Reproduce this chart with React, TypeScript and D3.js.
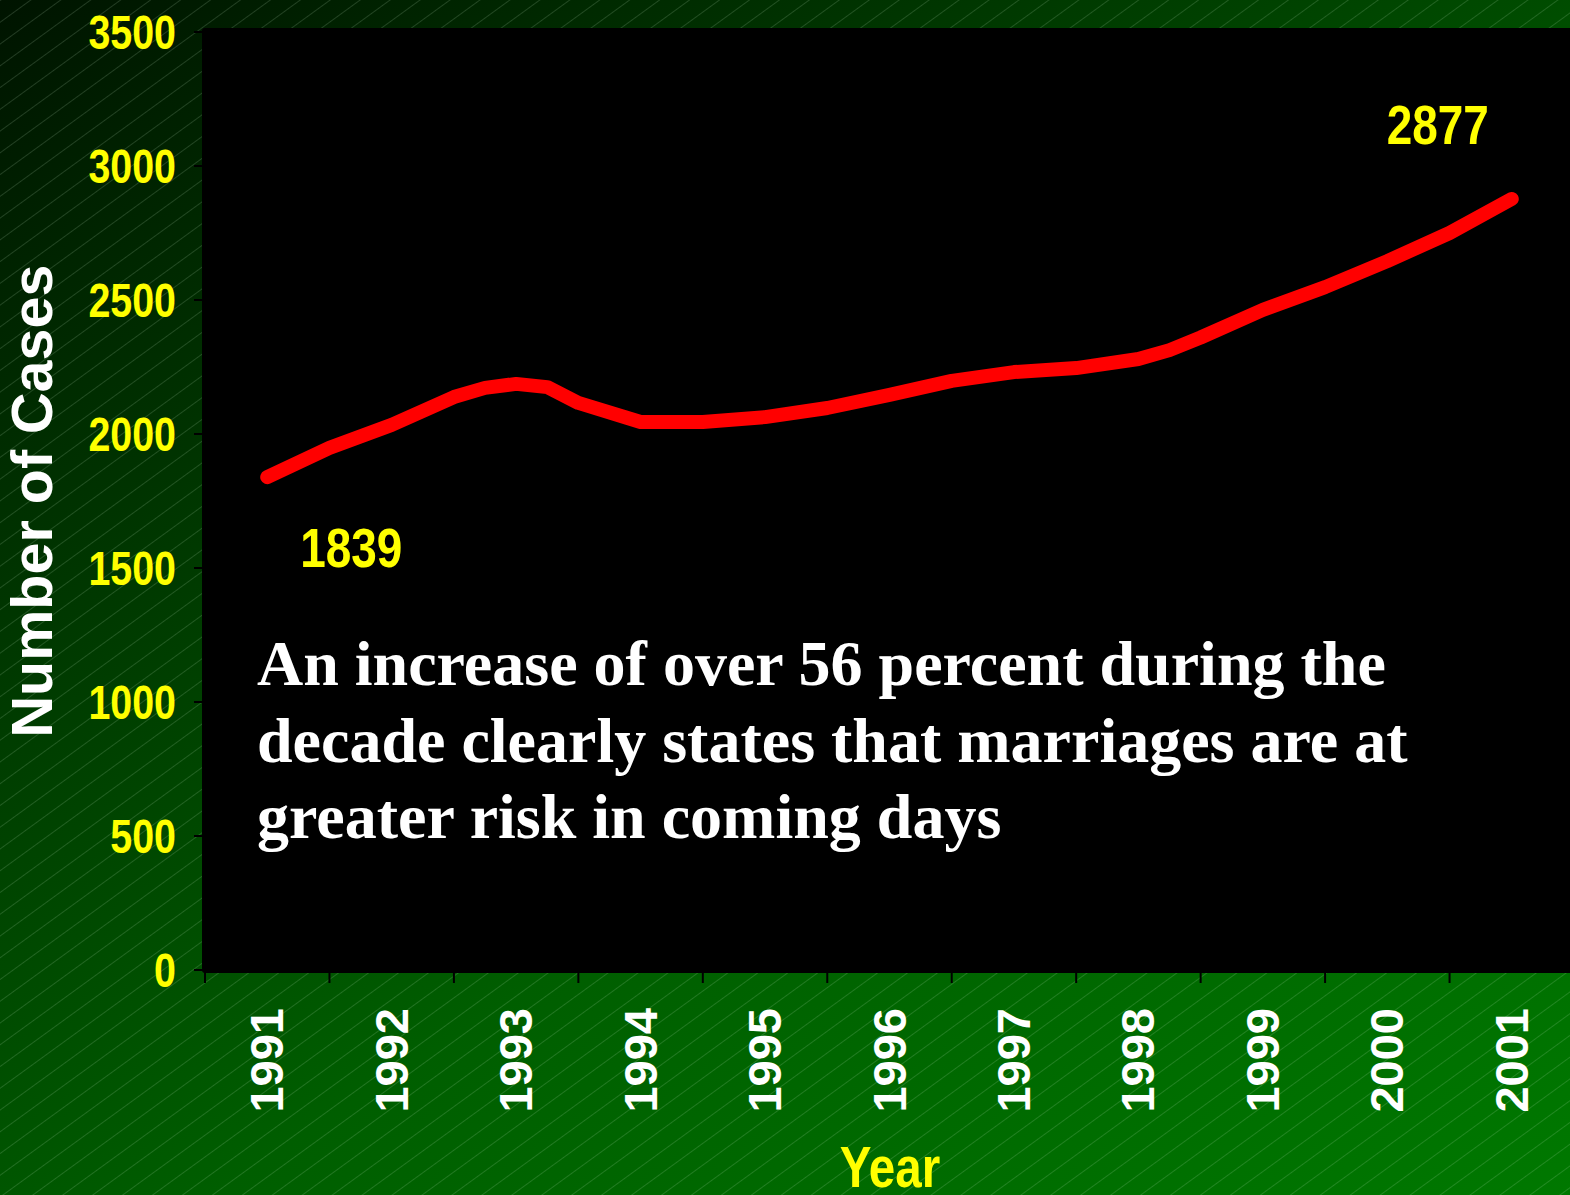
import React from 'react';
import * as d3 from 'd3';

const CATEGORIES = ['1991', '1992', '1993', '1994', '1995', '1996', '1997', '1998', '1999', '2000', '2001'];
const Y_TICKS = [0, 500, 1000, 1500, 2000, 2500, 3000, 3500];
// line sampled at fractional years (data units)
const LINE_YEARS = [1991, 1991.5, 1992, 1992.5, 1992.75, 1993, 1993.25, 1993.5, 1994, 1994.5, 1995, 1995.5, 1996, 1996.5, 1997, 1997.5, 1998, 1998.25, 1998.5, 1999, 1999.5, 2000, 2000.5, 2001];
const LINE_VALUES = [1839, 1948, 2034, 2138, 2172, 2187, 2175, 2116, 2045, 2045, 2063, 2097, 2146, 2198, 2231, 2246, 2280, 2313, 2360, 2463, 2548, 2645, 2750, 2877];
const NOTE_LINES = [
  'An increase of over 56 percent during the',
  'decade clearly states that marriages are at',
  'greater risk in coming days',
];
const Y_TITLE = 'Number of Cases';
const X_TITLE = 'Year';

const W = 1570;
const H = 1195;
const SANS = "'Liberation Sans', Arial, sans-serif";
const SERIF = "'Liberation Serif', 'Times New Roman', serif";
const NARROW_SCALE = 0.82;

function Narrow(props: { x: number; y: number; size: number; anchor?: string; fill: string; children: any }) {
  return (
    <text
      transform={`translate(${props.x},${props.y}) scale(${NARROW_SCALE},1)`}
      textAnchor={props.anchor || 'start'}
      fill={props.fill}
      fontFamily={SANS}
      fontWeight="bold"
      fontSize={props.size}
    >
      {props.children}
    </text>
  );
}

export default function App() {
  const xBand = d3.scaleBand<string>().domain(CATEGORIES).range([205, 1574]).padding(0);
  const bw = xBand.bandwidth();
  const xYear = d3
    .scaleLinear()
    .domain([+CATEGORIES[0], +CATEGORIES[CATEGORIES.length - 1]])
    .range([(xBand(CATEGORIES[0]) as number) + bw / 2, (xBand(CATEGORIES[CATEGORIES.length - 1]) as number) + bw / 2]);
  const y = d3.scaleLinear().domain([0, 3500]).range([970, 32]);

  const pts = LINE_YEARS.map((yr, i) => [yr, LINE_VALUES[i]] as [number, number]);
  const lineGen = d3
    .line<[number, number]>()
    .x((d) => xYear(d[0]))
    .y((d) => y(d[1]))
    .curve(d3.curveLinear);

  const first = pts[0];
  const last = pts[pts.length - 1];
  const boundaries = CATEGORIES.map((c) => xBand(c) as number).concat([(xBand(CATEGORIES[CATEGORIES.length - 1]) as number) + bw]);

  return (
    <svg width={W} height={H} style={{ position: 'absolute', left: 0, top: 0, display: 'block' }}>
      <defs>
        <linearGradient id="bg" gradientUnits="userSpaceOnUse" x1={0} y1={0} x2={1019} y2={1554}>
          <stop offset="0" stopColor="#001400" />
          <stop offset="0.46" stopColor="#004c00" />
          <stop offset="0.6" stopColor="#005e00" />
          <stop offset="1" stopColor="#007800" />
        </linearGradient>
        <pattern id="hatch" patternUnits="userSpaceOnUse" width={20} height={17.6} patternTransform="rotate(-36)">
          <line x1={0} y1={0.5} x2={20} y2={0.5} stroke="rgba(200,230,200,0.22)" strokeWidth={0.8} />
        </pattern>
      </defs>
      <rect x={0} y={0} width={W} height={H} fill="url(#bg)" />
      <rect x={0} y={0} width={W} height={H} fill="url(#hatch)" />

      {/* plot area */}
      <rect x={202} y={28} width={W - 202 + 10} height={945} fill="#000" rx={3} />

      {/* y ticks */}
      {Y_TICKS.map((t) => (
        <g key={t}>
          <line x1={194} x2={203} y1={y(t)} y2={y(t)} stroke="#000" strokeWidth={2} />
          <Narrow x={176} y={y(t) + 17} size={48} anchor="end" fill="#ffff00">
            {t}
          </Narrow>
        </g>
      ))}

      {/* x ticks */}
      {boundaries.map((bx, i) => (
        <line key={i} x1={bx} x2={bx} y1={972} y2={983} stroke="#000" strokeWidth={2} />
      ))}
      {CATEGORIES.map((c) => {
        const cx = (xBand(c) as number) + bw / 2;
        return (
          <text
            key={c}
            transform={`translate(${cx + 16},1008) rotate(-90)`}
            textAnchor="end"
            fill="#fff"
            fontFamily={SANS}
            fontWeight="bold"
            fontSize={47}
          >
            {c}
          </text>
        );
      })}

      {/* axis titles */}
      <text transform="translate(52,501) rotate(-90)" textAnchor="middle" fill="#fff" fontFamily={SANS} fontWeight="bold" fontSize={57.5}>
        {Y_TITLE}
      </text>
      <Narrow x={890} y={1187} size={58} anchor="middle" fill="#ffff00">
        {X_TITLE}
      </Narrow>

      {/* data line */}
      <path d={lineGen(pts) || ''} fill="none" stroke="#ff0000" strokeWidth={14} strokeLinecap="round" strokeLinejoin="round" />

      {/* end labels */}
      <Narrow x={xYear(first[0]) + 33} y={y(first[1]) + 90} size={56} fill="#ffff00">
        {first[1]}
      </Narrow>
      <Narrow x={xYear(last[0]) - 125} y={y(last[1]) - 55} size={56} fill="#ffff00">
        {last[1]}
      </Narrow>

      {/* annotation */}
      {NOTE_LINES.map((ln, i) => (
        <text key={i} x={257} y={685 + i * 76.5} fill="#fff" fontFamily={SERIF} fontWeight="bold" fontSize={64}>
          {ln}
        </text>
      ))}
    </svg>
  );
}
